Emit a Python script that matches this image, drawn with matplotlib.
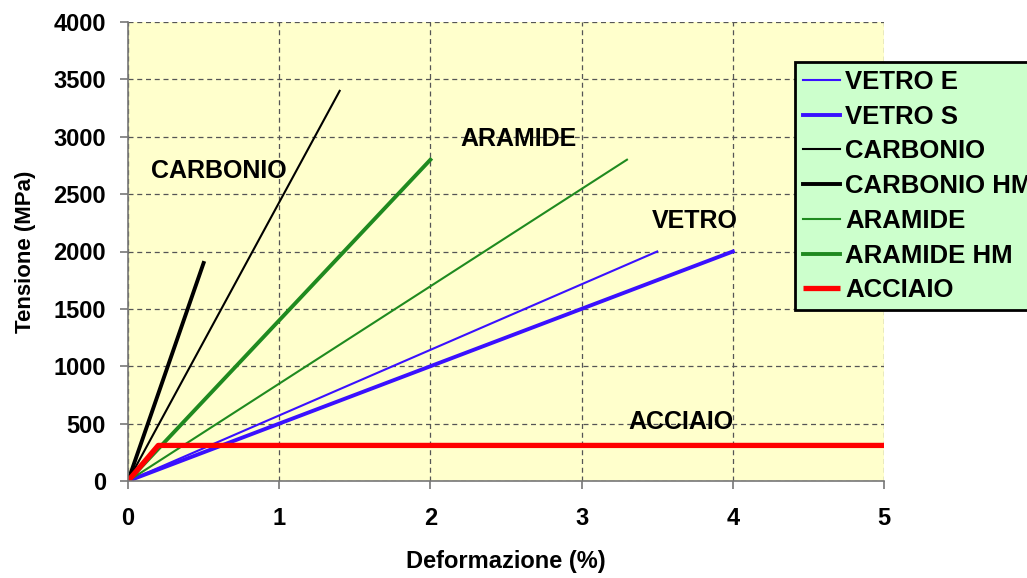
import matplotlib.pyplot as plt

plt.rcParams['font.family'] = ['Liberation Sans', 'DejaVu Sans']
plt.rcParams['font.weight'] = 'bold'

# strain (%) and stress (MPa) for each material
vetro_e_x = [0, 3.5]
vetro_e_y = [0, 2000]
vetro_s_x = [0, 4.0]
vetro_s_y = [0, 2000]
carb_x = [0, 1.4]
carb_y = [0, 3400]
carb_hm_x = [0, 0.5]
carb_hm_y = [0, 1900]
aram_x = [0, 3.3]
aram_y = [0, 2800]
aram_hm_x = [0, 2.0]
aram_hm_y = [0, 2800]
acc_x = [0, 0.2, 5.0]
acc_y = [0, 310, 310]

blue = '#3a10ff'
green = '#1f8a1f'

fig = plt.figure(figsize=(10.27, 5.78), dpi=100)
ax = fig.add_axes([128/1027, 1-481/578, (884-128)/1027, (481-22)/578])
ax.set_facecolor('#ffffcc')

ax.plot(vetro_e_x, vetro_e_y, color=blue, lw=1.5, label='VETRO E')
ax.plot(vetro_s_x, vetro_s_y, color=blue, lw=2.8, label='VETRO S')
ax.plot(carb_x, carb_y, color='black', lw=1.5, label='CARBONIO')
ax.plot(carb_hm_x, carb_hm_y, color='black', lw=2.8, label='CARBONIO HM')
ax.plot(aram_x, aram_y, color=green, lw=1.5, label='ARAMIDE')
ax.plot(aram_hm_x, aram_hm_y, color=green, lw=2.8, label='ARAMIDE HM')
ax.plot(acc_x, acc_y, color='#ff0000', lw=3.8, label='ACCIAIO', solid_capstyle='butt')

ax.set_xlim(0, 5)
ax.set_ylim(0, 4000)
ax.set_xticks(range(0, 6))
ax.set_yticks(range(0, 4001, 500))
ax.grid(True, color='#555555', ls=(0, (4, 3)), lw=0.9)
ax.set_axisbelow(True)
for s in ['top', 'right']:
    ax.spines[s].set_visible(False)
for s in ['left', 'bottom']:
    ax.spines[s].set_color('#777777')
    ax.spines[s].set_linewidth(1.2)
ax.tick_params(labelsize=17, color='#777777', length=6, width=1.2)
ax.tick_params(axis='x', pad=13)
ax.tick_params(axis='y', pad=10)

ax.set_xlabel('Deformazione (%)', fontsize=17, fontweight='bold', labelpad=14)
ax.set_ylabel('Tensione (MPa)', fontsize=16, fontweight='bold', labelpad=12)

ax.text(0.6, 2700, 'CARBONIO', fontsize=18, ha='center', va='center')
ax.text(2.58, 2980, 'ARAMIDE', fontsize=18, ha='center', va='center')
ax.text(3.75, 2270, 'VETRO', fontsize=18, ha='center', va='center')
ax.text(3.66, 515, 'ACCIAIO', fontsize=18, ha='center', va='center')

leg = fig.legend(loc='upper left', bbox_to_anchor=(795/1027, 1-62/578),
                 borderaxespad=0, fontsize=18.5, frameon=True, fancybox=False,
                 handlelength=1.45, labelspacing=0.42, borderpad=0.3,
                 handletextpad=0.2)
leg.get_frame().set_facecolor('#ccffcc')
leg.get_frame().set_edgecolor('black')
leg.get_frame().set_linewidth(2)
leg.get_frame().set_alpha(1)

fig.savefig('out.png', dpi=100)
